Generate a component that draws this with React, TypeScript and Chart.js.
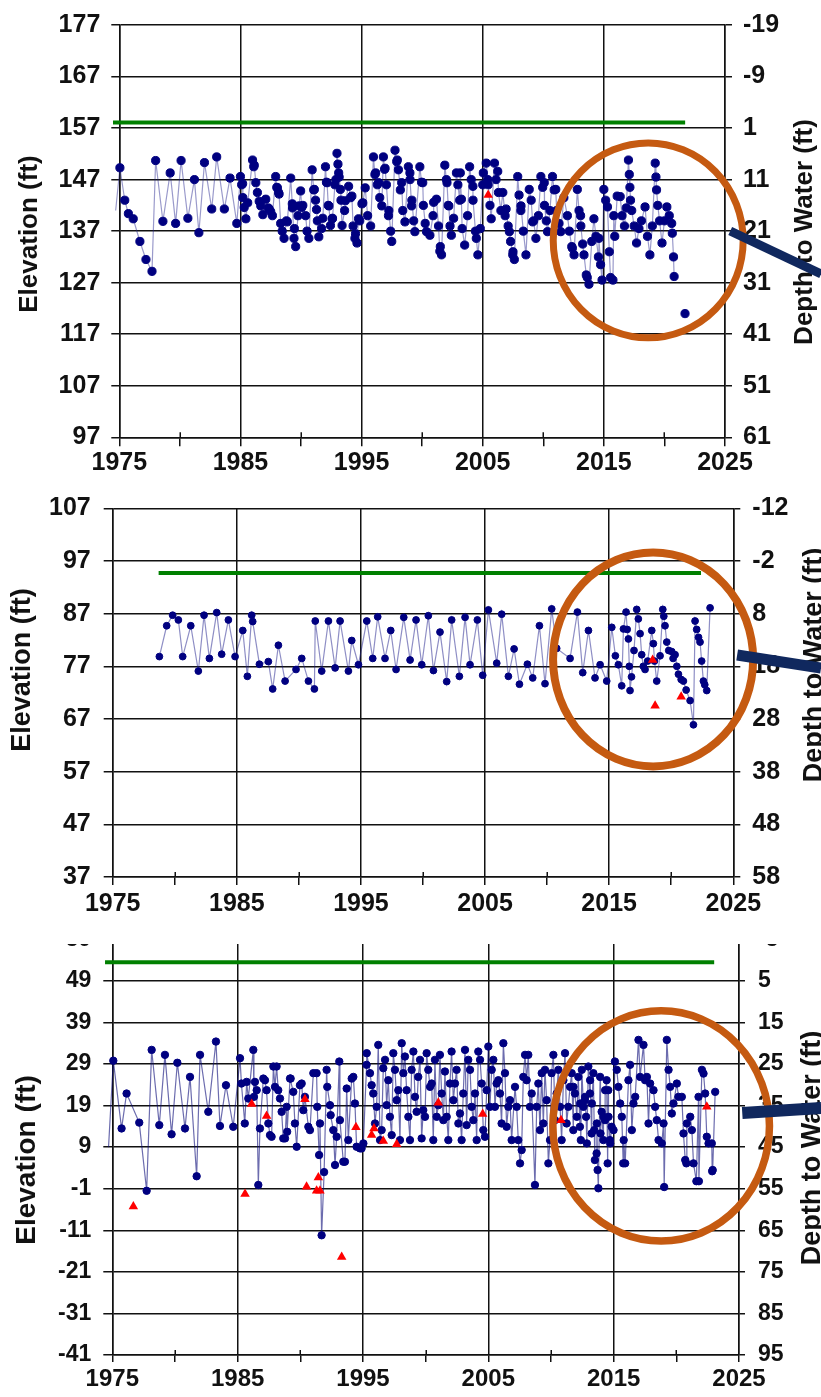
import React, { useEffect, useRef } from 'react';
import { Chart, registerables } from 'chart.js';

Chart.register(...registerables);

// ---------------- DATA ----------------
const YEAR_MIN = 1975;
const YEAR_MAX = 2025;

// Panel 1 (elevation ft)
const P1_ELEV_RANGE = [97, 177];
const P1_DEPTH_RANGE = [-19, 61];
const P1_SERIES: [number, number | null][] = [
  [1974.7, 141], [1975.05, 149.3], [1975.45, 143], [1975.75, 140.4], [1976.15, 139.4], [1976.7, 135], [1977.2, 131.5], [1977.7, 129.2],
  [1978.0, 150.7], [1978.6, 138.9], [1979.2, 148.3], [1979.65, 138.5], [1980.1, 150.7], [1980.66, 139.5], [1981.2, 147], [1981.57, 136.7],
  [1982.03, 150.3], [1982.63, 141.3], [1983.04, 151.4], [1983.67, 141.3], [1984.14, 147.3], [1984.7, 138.5],
  [1985.0, 147.6], [1985.1, 146], [1985.2, 143.5], [1985.31, 141.6], [1985.45, 139.4], [1985.6, 142.5], [1986.0, 150.8], [1986.1, 149.5],
  [1986.27, 146.4], [1986.4, 144.5], [1986.55, 142.8], [1986.68, 141.9], [1986.85, 140.2], [1987.09, 143.2], [1987.3, 141.5], [1987.5, 140.8],
  [1987.64, 140], [1987.91, 147.6], [1988.0, 145.5], [1988.15, 144.5], [1988.32, 138.5], [1988.45, 137], [1988.6, 135.6], [1988.8, 139],
  [1989.15, 147.3], [1989.3, 141.5], [1989.45, 137.5], [1989.56, 134], [1989.75, 140], [1989.97, 144.8], [1990.15, 142], [1990.38, 140],
  [1990.5, 137], [1990.65, 135.6], [1990.92, 148.9], [1991.05, 145], [1991.2, 143], [1991.35, 139], [1991.47, 135.9], [1991.7, 137.5],
  [1992.02, 149.5], [1992.1, 146.5], [1992.25, 142], [1992.43, 138.1], [1992.6, 139.5], [1992.8, 146], [1992.97, 152.1], [1993.05, 150],
  [1993.15, 147.5], [1993.3, 143], [1993.39, 138.1], [1993.6, 141], [1993.93, 145.7], [1994.1, 143.5], [1994.3, 138], [1994.5, 136.5],
  [1994.62, 134.7], [1994.85, 139], [1995.1, 142.5], [1995.3, 145.4], [1995.5, 140], [1995.75, 138], [1995.98, 151.4], [1996.1, 148],
  [1996.3, 146], [1996.5, 143.5], [1996.67, 141.9], [1996.8, 151.4], [1996.9, 149], [1997.05, 146], [1997.25, 141], [1997.4, 137],
  [1997.49, 135], [1997.76, 152.7], [1997.9, 150.5], [1998.04, 148.9], [1998.2, 145], [1998.4, 141], [1998.58, 138.8], [1998.86, 149.5],
  [1999.0, 147], [1999.15, 143], [1999.3, 139], [1999.4, 136.9], [1999.81, 149.5], [1999.95, 146.5], [2000.1, 142], [2000.25, 138.5],
  [2000.36, 136.9], [2000.64, 136.2], [2000.9, 140], [2001.18, 143.2], [2001.35, 138], [2001.5, 134], [2001.6, 132.4], [2001.87, 149.8],
  [2002.0, 147], [2002.15, 142], [2002.3, 138], [2002.41, 136.2], [2002.6, 139.5], [2002.83, 148.3], [2002.95, 146], [2003.1, 143],
  [2003.3, 137.5], [2003.51, 134.3], [2003.75, 140], [2003.92, 149.5], [2004.05, 147], [2004.2, 143], [2004.4, 137], [2004.6, 132.4],
  [2004.8, 137.5], [2005.0, 146], [2005.29, 150.2], [2005.45, 146], [2005.6, 142], [2005.7, 139.4], [2005.97, 150.2], [2006.1, 147],
  [2006.3, 144.5], [2006.5, 141], [2006.66, 144.5], [2006.85, 140], [2007.1, 138], [2007.3, 135], [2007.5, 133], [2007.61, 131.5],
  [2007.89, 147.6], [2008.0, 144], [2008.15, 141], [2008.35, 137], [2008.57, 132.4], [2008.84, 145.1], [2009.0, 143], [2009.2, 139],
  [2009.39, 135.6], [2009.6, 140], [2009.8, 147.6], [2009.95, 145.5], [2010.1, 142], [2010.25, 139], [2010.35, 136.9], [2010.55, 141],
  [2010.76, 147.6], [2010.9, 145], [2011.1, 141], [2011.3, 138.5], [2011.44, 136.9], [2011.7, 143.5], [2011.99, 140], [2012.15, 137],
  [2012.35, 134], [2012.54, 132.4], [2012.81, 145.1], [2012.95, 141], [2013.1, 138], [2013.25, 134.5], [2013.36, 132.4], [2013.55, 128.5],
  [2013.77, 126.7], [2014.0, 135], [2014.18, 139.4], [2014.35, 136], [2014.55, 132], [2014.73, 130.5], [2014.85, 127.5], [2015.0, 145.1],
  [2015.15, 143], [2015.3, 141.7], [2015.45, 133], [2015.55, 128], [2015.75, 127.5], [2015.9, 136], [2016.1, 143.8], [2016.35, 143.7],
  [2016.5, 140], [2016.7, 138], [2016.85, 141.5], [2017.03, 150.8], [2017.1, 148], [2017.15, 145.5], [2017.2, 143], [2017.3, 141],
  [2017.5, 138], [2017.7, 134.7], [2017.9, 137.5], [2018.1, 139], [2018.4, 141.7], [2018.6, 136], [2018.8, 132.4], [2019.0, 138],
  [2019.24, 150.2], [2019.3, 147.5], [2019.35, 145], [2019.45, 142], [2019.6, 139], [2019.8, 134.7], [2020.0, 139], [2020.2, 141.7],
  [2020.4, 140], [2020.6, 138.5], [2020.65, 136.6], [2020.75, 132], [2020.8, 128.2], [2021.2, null], [2021.7, 121],
  // further readings
  [1985.18, 146.2], [1986.14, 149.8], [1987.37, 141.3], [1988.05, 145.4], [1988.19, 144.2], [1988.87, 138.8], [1989.28, 142.3],
  [1989.42, 135.6], [1989.83, 141.9], [1990.06, 141.6], [1991.1, 145.1], [1991.28, 141.2], [1991.8, 139.5], [1992.15, 146.4],
  [1992.3, 141.9], [1992.57, 139.4], [1992.88, 147], [1993.11, 148.3], [1993.25, 145.1], [1993.66, 142.9], [1994.2, 143.8],
  [1994.45, 135.6], [1994.75, 139.4], [1995.03, 142.3],
  [1996.16, 148.3], [1996.4, 146.4], [1996.94, 149.2], [1997.22, 140], [1997.95, 150.8], [1998.31, 146.4], [1998.99, 148.3],
  [1999.13, 141.9], [2000.05, 146.4], [2000.95, 142.6], [2001.46, 133.1], [2002.05, 146.4], [2002.2, 141.9], [2003.15, 148.3],
  [2003.24, 143.2], [2004.19, 145.7], [2004.47, 135.6], [2005.05, 148.3], [2005.42, 147], [2006.24, 148.6], [2006.93, 141.3],
  [2007.2, 136.9], [2007.48, 132.4], [2008.16, 141.9], [2009.12, 138.8], [2010.08, 146.4], [2011.03, 145.1], [2012.4, 133.7],
  [2013.08, 140], [2013.63, 128], [2014.59, 135.6], [2015.82, 140],
];
const P1_TRIANGLES: [number, number][] = [[2005.45, 144]];
const P1_REF_LEVEL = 158.1;
const P1_REF_SPAN = [1974.48, 2021.71];

// Panel 2
const P2_ELEV_RANGE = [37, 107];
const P2_DEPTH_RANGE = [-12, 58];
const P2_SERIES: [number, number][] = [
  [1978.76, 78.85], [1979.35, 84.7], [1979.83, 86.7], [1980.29, 85.8], [1980.64, 78.85], [1981.29, 84.7], [1981.9, 76.1], [1982.36, 86.7],
  [1982.79, 78.5], [1983.38, 87.2], [1983.78, 79.3], [1984.32, 85.8], [1984.86, 78.85], [1985.48, 83.8], [1985.85, 75.1], [1986.2, 86.7],
  [1986.28, 85.5], [1986.82, 77.4], [1987.54, 77.9], [1987.89, 72.7], [1988.35, 81], [1988.89, 74.2], [1989.77, 76.4], [1990.23, 78.5],
  [1990.77, 74.2], [1991.25, 72.7], [1991.32, 85.6], [1991.84, 76.1], [1992.38, 85.6], [1992.92, 76.7], [1993.32, 85.6], [1993.99, 76.1],
  [1994.26, 81.9], [1994.8, 77.3], [1995.47, 85.6], [1995.95, 78.5], [1996.35, 86.4], [1996.94, 78.5], [1997.4, 83.8], [1997.83, 76.4],
  [1998.45, 86.3], [1998.96, 78.2], [1999.44, 85.8], [1999.9, 77.3], [2000.43, 86.6], [2000.84, 76.2], [2001.37, 83.5], [2001.91, 74.1],
  [2002.31, 85.8], [2002.93, 75.1], [2003.39, 86.3], [2003.79, 77.3], [2004.38, 85.8], [2004.81, 75.3], [2005.27, 87.7], [2005.94, 77.6],
  [2006.34, 86.9], [2006.88, 75.1], [2007.34, 80.3], [2007.77, 73.6], [2008.41, 77.4], [2008.84, 74.8], [2009.38, 84.7], [2009.83, 73.7],
  [2010.37, 87.9], [2010.77, 80.4], [2011.85, 78.5], [2012.44, 87.3], [2012.87, 75.8], [2013.33, 83.8], [2013.86, 74.8], [2014.27, 77.3],
  [2014.8, 74.2], [2015.21, 84.4], [2015.5, 79], [2015.74, 77.3], [2016.01, 73.3], [2016.15, 84.1], [2016.36, 87.3], [2016.45, 84],
  [2016.55, 82.2], [2016.62, 77], [2016.68, 72.4], [2016.8, 75], [2017.0, 80], [2017.22, 87.8], [2017.35, 86], [2017.49, 83.2],
  [2017.62, 79.2], [2017.75, 77], [2017.89, 76.4], [2018.1, 78], [2018.43, 83.8], [2018.56, 81.3], [2018.65, 78], [2018.83, 74.2],
  [2019.1, 79], [2019.32, 87.8], [2019.4, 86.5], [2019.5, 84.7], [2019.64, 81.6], [2019.8, 80], [2020.04, 79.8], [2020.15, 78.5],
  [2020.31, 79.2], [2020.45, 77], [2020.58, 75.5], [2020.8, 74.5], [2020.98, 74.2], [2021.2, 72.5], [2021.52, 70.5], [2021.79, 65.9],
  [2021.92, 85.6], [2022.05, 84], [2022.2, 82.5], [2022.32, 81.6], [2022.45, 78], [2022.59, 74.2], [2022.7, 73.5], [2022.86, 72.4],
  [2023.13, 88.1],
];
const P2_TRIANGLES: [number, number][] = [[2018.5, 78.2], [2018.7, 69.5], [2020.8, 71.2]];
const P2_REF_LEVEL = 94.7;
const P2_REF_SPAN = [1978.7, 2022.4];

// Panel 3
const P3_ELEV_RANGE = [-41, 59];
const P3_DEPTH_RANGE = [-5, 95];
const P3_SERIES: [number, number][] = [
  [1974.55, 19], [1974.7, 9], [1975.08, 29.8], [1975.74, 13.5], [1976.14, 21.9], [1977.15, 14.9], [1977.74, -1.5], [1978.14, 32.4],
  [1978.75, 14.3], [1979.2, 31.2], [1979.73, 12.1], [1980.19, 29.3], [1980.8, 13.5], [1981.2, 25.9], [1981.73, 2], [1982.0, 31.2],
  [1982.66, 17.5], [1983.27, 34.4], [1983.59, 14.1], [1984.07, 23.9], [1984.65, 13.9], [1985.19, 30.4], [1985.3, 24.3], [1985.57, 14.7],
  [1985.85, 20.7], [1986.25, 32.4], [1986.38, 24.7], [1986.65, -0.1], [1987.05, 25.5], [1987.31, 22.7], [1987.58, 11.9], [1988.11, 28.4],
  [1988.24, 22.7], [1988.64, 11.1], [1988.91, 18.7], [1989.23, 25.5], [1989.71, 9.1], [1990.11, 24.3], [1990.37, 21.1], [1990.77, 13.1],
  [1991.3, 26.8], [1991.5, 7.1], [1991.7, -12.2], [1991.9, 3], [1992.1, 27.6], [1992.37, 19.1], [1992.77, 4.7], [1993.11, 29.6],
  [1993.43, 5.5], [1993.7, 23.1], [1994.23, 25.9], [1994.36, 19.5], [1994.76, 8.7], [1995.03, 9.9], [1995.3, 31.6], [1995.69, 23.9],
  [1995.96, 14.7], [1996.22, 33.6], [1996.62, 28], [1996.89, 19.1], [1997.29, 11.9], [1997.42, 31.6], [1997.82, 22.7], [1998.09, 34],
  [1998.35, 30.8], [1998.62, 16.3], [1999.02, 32], [1999.41, 25.9], [1999.68, 11.1], [2000.08, 31.6], [2000.35, 23.5], [2000.61, 10.7],
  [2001.01, 19.1], [2001.14, 31.2], [2001.41, 15.5], [2001.81, 10.7], [2002.07, 32], [2002.34, 24.3], [2002.61, 14.7], [2002.87, 10.7],
  [2003.14, 32.4], [2003.54, 27.6], [2003.8, 15.5], [2004.2, 32], [2004.47, 24.3], [2004.73, 11.5], [2005.0, 33.2], [2005.27, 27.6],
  [2005.53, 18.7], [2005.8, 25.1], [2006.2, 34], [2006.46, 13.9], [2006.73, 20.3], [2007.13, 23.5], [2007.53, 5.1], [2007.79, 25.9],
  [2008.19, 31.2], [2008.46, 21.9], [2008.72, -0.1], [2009.12, 13.1], [2009.52, 27.6], [2009.79, 5.1], [2010.19, 31.2], [2010.45, 21.9],
  [2010.85, 10.7], [2011.12, 31.6], [2011.52, 23.5], [2011.78, 13.1], [2012.06, 16.3], [2012.18, 25.9], [2012.46, 27.6], [2012.59, 18.7],
  [2012.86, 9.9], [2012.98, 28.4], [2013.24, 12.3], [2013.38, 26.8], [2013.5, 5.9], [2013.64, 7.5], [2013.78, -0.9], [2013.92, 25.9],
  [2014.04, 17.5], [2014.19, 16.3], [2014.44, 25.1], [2014.52, 5.1], [2014.7, 10.7], [2014.72, 9.9], [2015.1, 29.6], [2015.38, 23.5],
  [2015.65, 16.3], [2015.76, 5.1], [2015.92, 5.1], [2016.31, 28.8], [2016.58, 19.5], [2016.98, 34.8], [2017.38, 33.6], [2017.51, 25.1],
  [2017.78, 14.7], [2018.18, 22.7], [2018.44, 15.5], [2018.84, 9.9], [2019.03, -0.6], [2019.24, 34.8], [2019.38, 27.6], [2019.64, 17.1],
  [2020.04, 24.3], [2020.44, 21.1], [2020.71, 5.9], [2020.8, 5.1], [2021.11, 16.3], [2021.37, 5.1], [2021.6, 0.8], [2021.8, 0.8],
  [2022.04, 27.6], [2022.3, 21.9], [2022.43, 11.5], [2022.83, 9.9], [2022.86, 3.2], [2023.1, 22.3],
  // further readings
  [1985.72, 24.7], [1986.3, 21.1], [1986.52, 22.7], [1986.78, 13.5], [1987.18, 25.1], [1987.45, 14.7], [1987.71, 11.5], [1987.85, 28.4],
  [1987.98, 23.5], [1988.38, 20.7], [1988.51, 17.5], [1988.78, 11.1], [1988.95, 12.7], [1989.18, 25.5], [1989.44, 22.3], [1989.57, 14.7],
  [1989.97, 23.9], [1990.24, 17.9], [1990.64, 13.9], [1991.04, 26.8], [1991.35, 18.7], [1991.57, 14.7], [1992.15, 23.5], [1992.42, 16.7],
  [1992.63, 13.1], [1992.9, 11.5], [1993.16, 15.5], [1993.56, 5.5], [1993.83, 10.7], [1994.1, 25.5], [1994.49, 9.1], [1994.89, 8.7],
  [1995.29, 28.8], [1995.56, 26.8], [1995.82, 21.9], [1996.09, 18.7], [1996.36, 10.7], [1996.49, 13.1], [1996.76, 30], [1997.02, 25.1],
  [1997.15, 16.3], [1997.55, 27.6], [1997.69, 20.3], [1997.95, 10.7], [1998.22, 26.8], [1998.48, 22.7], [1998.75, 10.7], [1998.88, 27.6],
  [1999.15, 21.1], [1999.28, 17.5], [1999.55, 30], [1999.81, 17.9], [1999.95, 16.3], [2000.21, 27.6], [2000.48, 24.3], [2000.74, 30],
  [2000.88, 16.3], [2001.28, 21.9], [2001.54, 27.2], [2001.68, 16.3], [2001.94, 24.3], [2002.21, 20.3], [2002.47, 27.6], [2002.74, 17.1],
  [2003.0, 21.9], [2003.27, 14.3], [2003.4, 30], [2003.67, 18.7], [2003.94, 21.9], [2004.07, 10.7], [2004.34, 30], [2004.6, 13.1],
  [2004.87, 22.7], [2005.13, 18.7], [2005.4, 30], [2005.66, 24.3], [2005.93, 21.9], [2006.06, 14.7], [2006.33, 26.8], [2006.6, 18.7],
  [2006.86, 10.7], [2007.26, 18.7], [2007.39, 10.7], [2007.66, 8.3], [2007.93, 31.2], [2008.06, 25.1], [2008.32, 18.7], [2008.86, 18.7],
  [2008.99, 24.3], [2009.26, 26.8], [2009.39, 14.7], [2009.65, 20.3], [2009.92, 10.7], [2010.05, 26.8], [2010.32, 15.5], [2010.59, 27.6],
  [2010.72, 18.7], [2010.99, 25.1], [2011.25, 14.7], [2011.38, 18.7], [2011.65, 26.8], [2011.91, 21.9], [2012.31, 13.9], [2012.38, 10.7],
  [2012.71, 20.3], [2012.8, 16.3], [2013.11, 21.9], [2013.45, 13.1], [2013.72, 3.5],
  [2011.79, 23.5], [2012.33, 19.5], [2012.72, 21.1], [2013.12, 25.1], [2013.26, 19.5], [2013.66, 14.7], [2013.95, 12.3], [2014.32, 22.7],
  [2014.59, 16.3], [2014.99, 13.1], [2015.25, 27.6], [2015.52, 19.5], [2015.8, 10.7], [2016.18, 25.1], [2016.45, 13.1], [2016.72, 21.1],
  [2017.11, 25.9], [2017.65, 25.9], [2017.91, 24.3], [2018.31, 18.7], [2018.58, 10.7], [2018.98, 14.7], [2019.51, 23.5], [2019.77, 19.5],
  [2020.17, 21.1], [2020.57, 12.3], [2020.84, 14.7], [2021.24, 13.1], [2021.77, 21.1], [2022.17, 26.7], [2022.57, 9.9], [2022.9, 3.5],
  [2014.18, 10.7], [2014.31, 15.5], [2014.57, 22.7], [2014.84, 13.9],
];
const P3_TRIANGLES: [number, number][] = [
  [1976.68, -5.3], [1985.59, -2.3], [1986.12, 19.4], [1987.31, 16.5], [1990.37, 20.5], [1990.5, -0.5], [1991.3, -1.5], [1991.44, 1.7],
  [1991.57, -1.5], [1993.3, -17.4], [1994.44, 13.8], [1995.69, 11.9], [1995.88, 13.5], [1996.62, 10.5], [1997.69, 9.7], [2001.01, 19.7],
  [2004.55, 17], [2010.8, 15.5], [2022.43, 18.7],
];
const P3_REF_LEVEL = 53.5;
const P3_REF_SPAN = [1974.42, 2023.02];

const LEFT_TITLE = 'Elevation (ft)';
const RIGHT_TITLE = 'Depth to Water (ft)';

// ---------------- LAYOUT / STYLE ----------------
const W = 821;
const FONT = '"Liberation Sans", Arial, Helvetica, sans-serif';
const INK = '#111111';

type PanelCfg = {
  clipTop: number; clipH: number; canvasTop: number; H: number;
  left: number; right: number; top: number; bottom: number;
  tickFont: number; xFont: number;
  yTick: number; yPad: number; rTick: number; rPad: number; xTick: number; xPad: number; minorIn: number;
  markR: number; lineColor: string;
  leftTitle: { x: number; y: number; size: number };
  rightTitle: { x: number; y: number; size: number };
  ellipse: { cx: number; cy: number; rx: number; ry: number; w: number };
  arrow: { x0: number; y0: number; x1: number; y1: number; w: number };
  elev: number[]; depth: number[];
  series: [number, number | null][]; tri: [number, number][];
  ref: number; refSpan: number[];
};

const PANELS: PanelCfg[] = [
  {
    clipTop: 0, clipH: 488, canvasTop: 0, H: 488,
    left: 119.3, right: 725, top: 25, bottom: 437.3,
    tickFont: 25, xFont: 25, yTick: 8, yPad: 11, rTick: 7, rPad: 11, xTick: 9, xPad: 2, minorIn: 5,
    markR: 4.1, lineColor: 'rgba(30,30,140,0.45)',
    leftTitle: { x: 30, y: 234, size: 26 }, rightTitle: { x: 805, y: 232, size: 26 },
    ellipse: { cx: 2018.66, cy: 135.2, rx: 7.84, ry: 18.9, w: 7 },
    arrow: { x0: 2025.43, y0: 137.03, x1: 2032.94, y1: 128.69, w: 9 },
    elev: P1_ELEV_RANGE, depth: P1_DEPTH_RANGE, series: P1_SERIES, tri: P1_TRIANGLES, ref: P1_REF_LEVEL, refSpan: P1_REF_SPAN,
  },
  {
    clipTop: 488, clipH: 442, canvasTop: 488, H: 442,
    left: 112.7, right: 733.3, top: 20.3, bottom: 389,
    tickFont: 25, xFont: 25, yTick: 9, yPad: 13, rTick: 7, rPad: 12, xTick: 8, xPad: 4, minorIn: 5,
    markR: 3.4, lineColor: 'rgba(30,30,140,0.5)',
    leftTitle: { x: 23, y: 182, size: 27 }, rightTitle: { x: 815, y: 177, size: 27 },
    ellipse: { cx: 2018.54, cy: 78.3, rx: 8.06, ry: 20.3, w: 8 },
    arrow: { x0: 2025.31, y0: 79.15, x1: 2032.07, y1: 76.68, w: 11 },
    elev: P2_ELEV_RANGE, depth: P2_DEPTH_RANGE, series: P2_SERIES, tri: P2_TRIANGLES, ref: P2_REF_LEVEL, refSpan: P2_REF_SPAN,
  },
  {
    clipTop: 944, clipH: 453, canvasTop: 918, H: 479,
    left: 112.3, right: 739, top: 21.3, bottom: 437,
    tickFont: 23, xFont: 24, yTick: 9, yPad: 12, rTick: 6, rPad: 13, xTick: 7, xPad: 3, minorIn: 5,
    markR: 3.7, lineColor: 'rgba(10,10,120,0.6)',
    leftTitle: { x: 27, y: 242, size: 28 }, rightTitle: { x: 813, y: 230, size: 27 },
    ellipse: { cx: 2018.79, cy: 14.1, rx: 8.64, ry: 27.7, w: 7.5 },
    arrow: { x0: 2025.26, y0: 17.22, x1: 2031.56, y1: 18.42, w: 12 },
    elev: P3_ELEV_RANGE, depth: P3_DEPTH_RANGE, series: P3_SERIES, tri: P3_TRIANGLES, ref: P3_REF_LEVEL, refSpan: P3_REF_SPAN,
  },
];

function zeroPad(s: any) {
  s.paddingTop = 0;
  s.paddingBottom = 0;
  s.paddingLeft = 0;
  s.paddingRight = 0;
}

function Panel({ cfg }: { cfg: PanelCfg }) {
  const ref = useRef<HTMLCanvasElement | null>(null);

  useEffect(() => {
    const canvas = ref.current;
    if (!canvas) return;

    const decor = {
      id: 'decor',
      beforeDatasetsDraw(chart: any) {
        const { ctx, chartArea, scales } = chart;
        ctx.save();
        ctx.strokeStyle = INK;
        ctx.lineWidth = 1.5;
        for (let v = YEAR_MIN + 5; v < YEAR_MAX; v += 10) {
          const px = Math.round(scales.x.getPixelForValue(v)) + 0.25;
          ctx.beginPath();
          ctx.moveTo(px, chartArea.bottom - cfg.minorIn);
          ctx.lineTo(px, chartArea.bottom);
          ctx.stroke();
        }
        ctx.restore();
      },
      afterDraw(chart: any) {
        const { ctx, scales } = chart;
        const xs = scales.x;
        const ys = scales.y;
        ctx.save();
        ctx.fillStyle = INK;
        ctx.textAlign = 'center';
        ctx.textBaseline = 'middle';
        const titles = [
          { t: LEFT_TITLE, ...cfg.leftTitle },
          { t: RIGHT_TITLE, ...cfg.rightTitle },
        ];
        for (const tt of titles) {
          ctx.save();
          ctx.font = `bold ${tt.size}px ${FONT}`;
          ctx.translate(tt.x, tt.y);
          ctx.rotate(-Math.PI / 2);
          ctx.fillText(tt.t, 0, 0);
          ctx.restore();
        }
        const e = cfg.ellipse;
        const cx = xs.getPixelForValue(e.cx);
        const cy = ys.getPixelForValue(e.cy);
        const rx = Math.abs(xs.getPixelForValue(e.cx + e.rx) - cx);
        const ry = Math.abs(ys.getPixelForValue(e.cy + e.ry) - cy);
        ctx.strokeStyle = '#C55A11';
        ctx.lineWidth = e.w;
        ctx.beginPath();
        ctx.ellipse(cx, cy, rx, ry, 0, 0, Math.PI * 2);
        ctx.stroke();
        const a = cfg.arrow;
        ctx.strokeStyle = '#10285E';
        ctx.lineWidth = a.w;
        ctx.lineCap = 'butt';
        ctx.beginPath();
        ctx.moveTo(xs.getPixelForValue(a.x0), ys.getPixelForValue(a.y0));
        ctx.lineTo(xs.getPixelForValue(a.x1), ys.getPixelForValue(a.y1));
        ctx.stroke();
        ctx.restore();
      },
    };

    const tickFont = { family: FONT, size: cfg.tickFont, weight: 'bold' as const };
    const xFont = { family: FONT, size: cfg.xFont, weight: 'bold' as const };
    const seriesPts = cfg.series.map(([x, y]) => ({ x, y })).sort((p, q) => p.x - q.x);

    const chart = new Chart(canvas, {
      type: 'scatter',
      data: {
        datasets: [
          {
            data: cfg.tri.map(([x, y]) => ({ x, y })),
            showLine: false,
            pointStyle: 'triangle',
            pointRadius: 5.5,
            pointBackgroundColor: '#FF0000',
            pointBorderColor: '#FF0000',
            pointBorderWidth: 0,
          },
          {
            data: seriesPts,
            showLine: true,
            spanGaps: false,
            borderColor: cfg.lineColor,
            borderWidth: 1.2,
            pointRadius: (c: any) => (c.raw && c.raw.x < YEAR_MIN ? 0 : cfg.markR),
            pointBackgroundColor: '#000080',
            pointBorderColor: '#000080',
            pointBorderWidth: 1,
            clip: false,
          },
          {
            data: [
              { x: cfg.refSpan[0], y: cfg.ref },
              { x: cfg.refSpan[1], y: cfg.ref },
            ],
            showLine: true,
            borderColor: '#008000',
            borderWidth: 4,
            pointRadius: 0,
            clip: false,
          },
        ] as any,
      },
      options: {
        responsive: false,
        animation: false,
        events: [],
        layout: { padding: { top: cfg.top, left: 0, right: 0, bottom: 0 } },
        plugins: { legend: { display: false }, tooltip: { enabled: false } },
        scales: {
          x: {
            type: 'linear',
            position: 'bottom',
            min: YEAR_MIN,
            max: YEAR_MAX,
            afterFit: (s: any) => { s.height = cfg.H - cfg.bottom; zeroPad(s); },
            ticks: {
              stepSize: 5,
              autoSkip: false,
              maxRotation: 0,
              minRotation: 0,
              padding: cfg.xPad,
              color: INK,
              font: xFont,
              callback: (v: any) => ((Number(v) - YEAR_MIN) % 10 === 0 ? String(v) : ''),
            },
            grid: {
              color: (c: any) => (c.tick && (c.tick.value - YEAR_MIN) % 10 === 0 ? INK : 'rgba(0,0,0,0)'),
              tickColor: INK,
              lineWidth: 1.5,
              tickLength: cfg.xTick,
            },
            border: { display: true, color: INK, width: 1.5 },
          },
          y: {
            type: 'linear',
            position: 'left',
            min: cfg.elev[0],
            max: cfg.elev[1],
            afterFit: (s: any) => { s.width = cfg.left; zeroPad(s); },
            ticks: { stepSize: 10, padding: cfg.yPad, color: INK, font: tickFont, callback: (v: any) => String(v) },
            grid: { color: INK, lineWidth: 1.5, tickLength: cfg.yTick },
            border: { display: true, color: INK, width: 1.5 },
          },
          depth: {
            type: 'linear',
            position: 'right',
            reverse: true,
            min: cfg.depth[0],
            max: cfg.depth[1],
            afterFit: (s: any) => { s.width = W - cfg.right; zeroPad(s); },
            ticks: { stepSize: 10, padding: cfg.rPad, color: INK, font: tickFont, callback: (v: any) => String(v) },
            grid: { drawOnChartArea: false, color: INK, lineWidth: 1.5, tickLength: cfg.rTick },
            border: { display: true, color: INK, width: 1.5 },
          },
        },
      } as any,
      plugins: [decor],
    });

    return () => chart.destroy();
  }, [cfg]);

  return (
    <div style={{ position: 'absolute', left: 0, top: cfg.clipTop, width: W, height: cfg.clipH, overflow: 'hidden' }}>
      <canvas
        ref={ref}
        width={W}
        height={cfg.H}
        style={{ position: 'absolute', left: 0, top: cfg.canvasTop - cfg.clipTop, width: W, height: cfg.H }}
      />
    </div>
  );
}

export default function App() {
  return (
    <div style={{ position: 'absolute', left: 0, top: 0, width: W, height: 1397, background: '#ffffff', overflow: 'hidden' }}>
      {PANELS.map((p, i) => (
        <Panel key={i} cfg={p} />
      ))}
    </div>
  );
}
